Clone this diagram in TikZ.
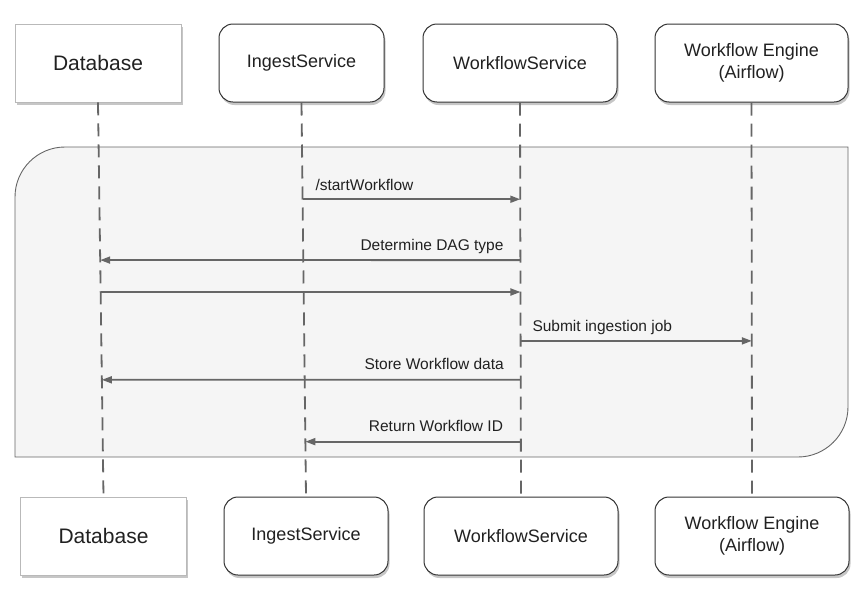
\documentclass[tikz,border=0pt]{standalone}
\usepackage{fontspec}
\setmainfont{Liberation Sans}
\usetikzlibrary{arrows.meta,calc,shadows}
\definecolor{linegray}{HTML}{666666}
\definecolor{framefill}{HTML}{F5F5F5}
\definecolor{textdark}{HTML}{212121}

\begin{document}
\begin{tikzpicture}[x=1pt,y=-1pt,
    dbbox/.style={draw=gray!55, line width=0.9pt, fill=white, minimum width=166pt, minimum height=78pt, inner sep=0pt,
        text=textdark, font=\fontsize{21}{25}\selectfont,
        drop shadow={shadow xshift=1.5pt, shadow yshift=-3pt, opacity=0.45}},
    svcbox/.style={draw=black!80, line width=1pt, fill=white, rounded corners=14pt, minimum height=78pt, inner sep=0pt,
        align=center, text=textdark, font=\fontsize{18}{22}\selectfont,
        drop shadow={shadow xshift=1.5pt, shadow yshift=-3pt, opacity=0.45}},
    lifeline/.style={draw=linegray, line width=1.8pt, dash pattern=on 13pt off 8pt},
    msg/.style={draw=linegray, line width=1.8pt, -{Triangle[length=10pt,width=7pt]}},
    msglabel/.style={font=\fontsize{15.5}{18}\selectfont, text=textdark, inner sep=0pt}]
    \useasboundingbox (0,0) rectangle (864,600);

    % participants, top row
    \node[dbbox] (dbTop) at (98,63) {Database};
    \node[svcbox, minimum width=165pt] (ingTop) at (301.5,63) {IngestService};
    \node[svcbox, minimum width=194pt] (wfTop) at (520,63) {WorkflowService};
    \node[svcbox, minimum width=193pt] (engTop) at (751.5,63) {Workflow Engine\\(Airflow)};

    % participants, bottom row
    \node[dbbox] (dbBot) at (103.5,536) {Database};
    \node[svcbox, minimum width=164pt] (ingBot) at (306,536) {IngestService};
    \node[svcbox, minimum width=194pt] (wfBot) at (521,536) {WorkflowService};
    \node[svcbox, minimum width=194pt] (engBot) at (752,536) {Workflow Engine\\(Airflow)};

    % frame
    \filldraw[fill=framefill, draw=linegray, line width=0.9pt] (15,457) -- (15,197)
        .. controls (15,169.4) and (37.4,147) .. (65,147) -- (848,147) -- (848,407)
        .. controls (848,434.6) and (825.4,457) .. (798,457) -- cycle;

    \foreach \n in {db,ing,wf,eng}
    {
        \draw[lifeline] (\n Top.south) -- (\n Bot.north);
        \foreach \y in {199,260,292,341,380,442}
            \coordinate (\n\y) at ($(\n Top.south)!{(\y-102)/395}!(\n Bot.north)$);
    }

    \draw[msg] (ing199) -- (wf199) node[msglabel, pos=0, anchor=base west, xshift=12pt, yshift=8.5pt] {/startWorkflow};
    \draw[msg] (wf260) -- (db260) node[msglabel, pos=0, anchor=base east, xshift=-16pt, yshift=10pt] {Determine DAG type};
    \draw[msg] (db292) -- (wf292);
    \draw[msg] (wf341) -- (eng341) node[msglabel, pos=0, anchor=base west, xshift=11pt, yshift=9pt] {Submit ingestion job};
    \draw[msg] (wf380) -- (db380) node[msglabel, pos=0, anchor=base east, xshift=-16pt, yshift=10pt] {Store Workflow data};
    \draw[msg] (wf442) -- (ing442) node[msglabel, pos=0, anchor=base east, xshift=-17pt, yshift=10pt] {Return Workflow ID};
\end{tikzpicture}
\end{document}
